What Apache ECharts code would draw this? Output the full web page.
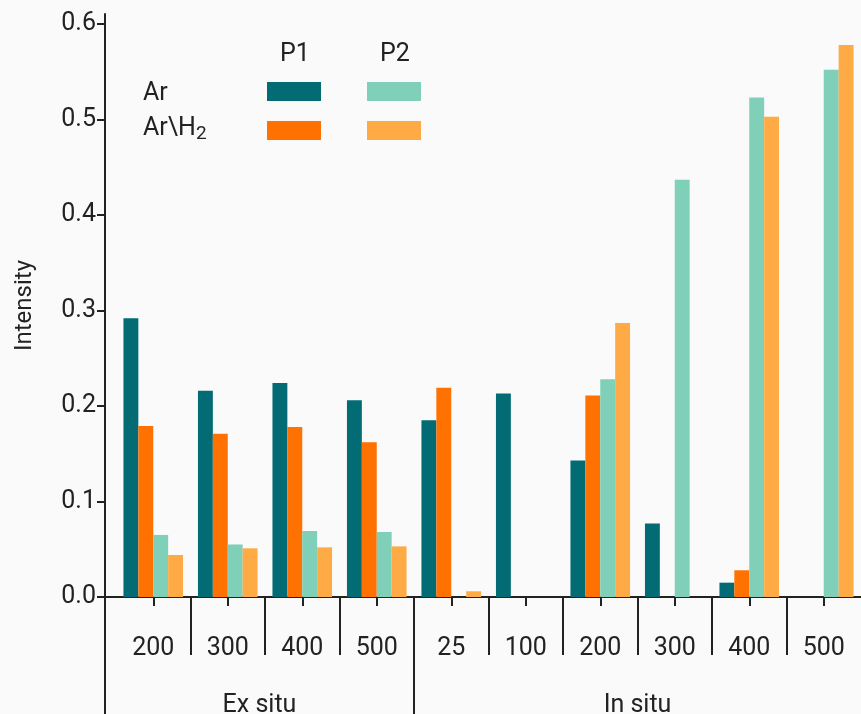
<!DOCTYPE html>
<html>
<head>
<meta charset="utf-8">
<script src="https://cdn.jsdelivr.net/npm/echarts@6/dist/echarts.min.js"></script>
<style>
html,body{margin:0;padding:0;background:#fafafa;}
#chart{width:861px;height:714px;}
</style>
</head>
<body>
<div id="chart"></div>
<script>
// ---- data ----
const categories = ['200', '300', '400', '500', '25', '100', '200', '300', '400', '500'];
const groupNames = ['Ex situ', 'In situ'];
const groupSizes = [4, 6];
const p1Ar   = [0.292, 0.216, 0.224, 0.206, 0.185, 0.213, 0.143, 0.077, 0.015, 0];
const p1ArH2 = [0.179, 0.171, 0.178, 0.162, 0.219, 0, 0.211, 0, 0.028, 0];
const p2Ar   = [0.065, 0.055, 0.069, 0.068, 0, 0, 0.228, 0.437, 0.523, 0.552];
const p2ArH2 = [0.044, 0.051, 0.052, 0.053, 0.006, 0, 0.287, 0, 0.503, 0.578];
const yTicks = [0, 0.1, 0.2, 0.3, 0.4, 0.5, 0.6];

// ---- layout ----
const FONT = 'Roboto';
const TXT = '#222';
const axisLeft = 105, plotLeft = 116;
const catWidth = (861 - plotLeft) / categories.length;
const axisStart = -(plotLeft - axisLeft) / catWidth;

// group separators & centres
const bounds = [];
const centres = [];
let acc = 0;
groupSizes.forEach((n, i) => {
  const start = i === 0 ? axisStart : acc;
  centres.push((start + acc + n) / 2);
  acc += n;
  bounds.push(acc);
});
const innerSeps = [];
for (let i = 1; i < categories.length; i++) if (bounds.indexOf(i) < 0) innerSeps.push(i);

const colors = ['#036b74', '#ff7100', '#80d0b9', '#ffab45'];
const names = ['P1 Ar', 'P1 Ar\\H2', 'P2 Ar', 'P2 Ar\\H2'];
const seriesData = [p1Ar, p1ArH2, p2Ar, p2ArH2];

const chart = echarts.init(document.getElementById('chart'), null, {renderer: 'canvas'});

const legendPos = [[267, 82], [267, 121], [367, 82], [367, 121]];
const legendOrder = [0, 1, 2, 3];

const option = {
  backgroundColor: '#fafafa',
  animation: false,
  textStyle: {fontFamily: FONT},
  title: [
    {text: 'P1', left: 280, top: 42, padding: 0, textStyle: {fontSize: 25, fontWeight: 'normal', color: TXT, fontFamily: FONT}},
    {text: 'P2', left: 380, top: 42, padding: 0, textStyle: {fontSize: 25, fontWeight: 'normal', color: TXT, fontFamily: FONT}},
    {text: 'Ar', left: 143, top: 81, padding: 0, textStyle: {fontSize: 25, fontWeight: 'normal', color: TXT, fontFamily: FONT}},
    {text: '{a|Ar\\H}{s|2}', left: 143, top: 114, padding: 0,
      textStyle: {fontSize: 25, fontWeight: 'normal', color: TXT, fontFamily: FONT,
        rich: {
          a: {fontSize: 25, lineHeight: 30, color: TXT, fontFamily: FONT},
          s: {fontSize: 19, lineHeight: 14, color: TXT, fontFamily: FONT, verticalAlign: 'bottom'}
        }}}
  ],
  legend: legendOrder.map(i => ({
    data: [names[i]],
    left: legendPos[i][0], top: legendPos[i][1],
    padding: 0,
    itemWidth: 54, itemHeight: 19,
    icon: 'rect',
    formatter: () => '',
    selectedMode: false
  })),
  grid: [
    {left: plotLeft, right: 0, top: 14, bottom: 117, outerBoundsMode: 'none', containLabel: false},
    {left: axisLeft, right: 0, top: 597, bottom: 0, outerBoundsMode: 'none', containLabel: false}
  ],
  xAxis: [
    {
      gridIndex: 0, type: 'category', data: categories,
      axisLine: {show: false, onZero: false},
      axisTick: {show: true, alignWithLabel: true, length: 9, lineStyle: {color: TXT, width: 2}},
      axisLabel: {fontSize: 25, color: TXT, margin: 39, fontFamily: FONT}
    },
    {
      gridIndex: 1, type: 'value', position: 'top', min: axisStart, max: categories.length,
      axisLine: {show: true, onZero: false, lineStyle: {color: TXT, width: 2}},
      axisTick: {show: true, inside: true, length: 58, customValues: innerSeps, lineStyle: {color: TXT, width: 2}},
      axisLabel: {show: false},
      splitLine: {show: false}
    },
    {
      gridIndex: 1, type: 'value', position: 'bottom', min: axisStart, max: categories.length,
      axisLine: {show: false, onZero: false},
      axisTick: {show: true, inside: true, length: 117, customValues: bounds.slice(0, -1), lineStyle: {color: TXT, width: 2}},
      axisLabel: {show: true, inside: true, margin: -4, customValues: centres, fontSize: 25, color: TXT, fontFamily: FONT,
        formatter: v => { const k = centres.findIndex(c => Math.abs(c - v) < 1e-6); return k >= 0 ? groupNames[k] : ''; }},
      splitLine: {show: false}
    }
  ],
  yAxis: [
    {
      gridIndex: 0, type: 'value', min: 0, max: 0.6105, offset: plotLeft - axisLeft,
      name: 'Intensity', nameLocation: 'middle', nameGap: 68, nameRotate: 90, nameMoveOverlap: false,
      nameTextStyle: {fontSize: 24, color: TXT, fontFamily: FONT},
      axisLine: {show: true, onZero: false, lineStyle: {color: TXT, width: 2}},
      axisTick: {show: true, length: 8, customValues: yTicks, lineStyle: {color: TXT, width: 2}},
      axisLabel: {customValues: yTicks, formatter: v => v.toFixed(1), fontSize: 25, color: TXT, margin: 9, fontFamily: FONT},
      splitLine: {show: false}
    },
    {
      gridIndex: 1, type: 'value', min: 0, max: 1,
      axisLine: {show: true, onZero: false, lineStyle: {color: TXT, width: 2}},
      axisTick: {show: false}, axisLabel: {show: false}, splitLine: {show: false}
    }
  ],
  series: seriesData.map((d, i) => ({
    name: names[i], type: 'bar', xAxisIndex: 0, yAxisIndex: 0,
    data: d, barGap: '0%', barCategoryGap: '20%',
    itemStyle: {color: colors[i]}
  }))
};
chart.setOption(option);
</script>
</body>
</html>
